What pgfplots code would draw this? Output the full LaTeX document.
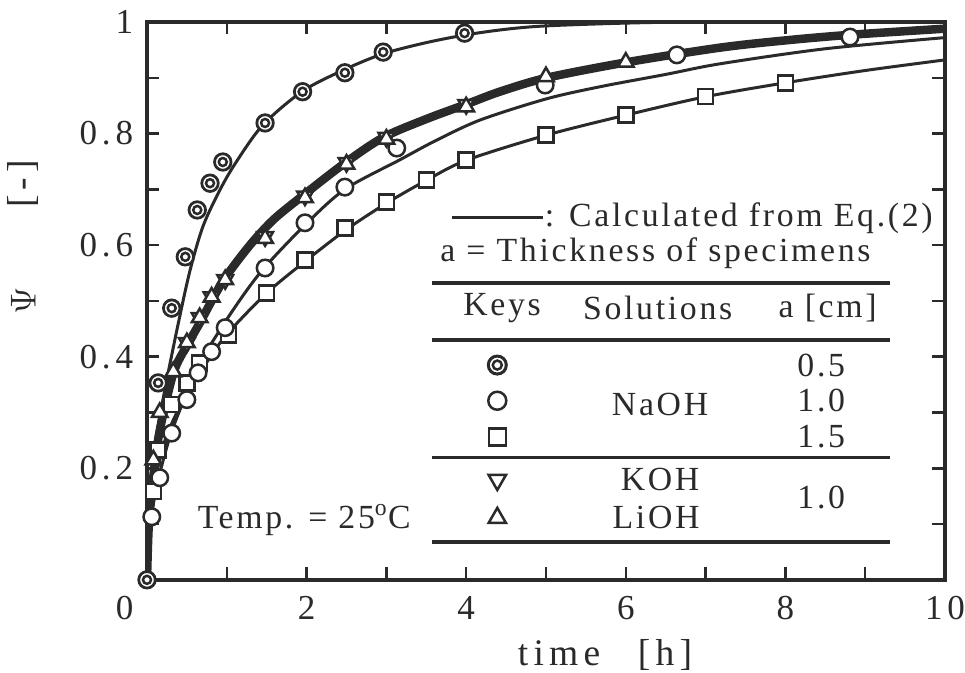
\documentclass[border=0pt]{standalone}
\usepackage{fontspec}
\setmainfont{Liberation Serif}[LetterSpace=14]
\newfontfamily\keyfont{Liberation Serif}[LetterSpace=8]
\usepackage{pgfplots}
\pgfplotsset{compat=1.18}
\definecolor{ink}{HTML}{2A2A2A}

\begin{document}
\begin{tikzpicture}
\begin{axis}[
  scale only axis,
  width=319pt, height=223pt,
  xmin=0, xmax=10, ymin=0, ymax=1,
  axis line style={ink, line width=1.8pt},
  xtick={2,4,6,8,10}, minor xtick={1,3,5,7,9},
  ytick={0.2,0.4,0.6,0.8,1}, minor ytick={0.1,0.3,0.5,0.7,0.9},
  tick align=inside, tick pos=both,
  major tick length=5pt, minor tick length=5pt,
  tick style={ink, line width=1pt},
  /pgf/number format/assume math mode=true,
  /pgf/number format/fixed,
  tick label style={font=\fontsize{14}{16}\selectfont, text=ink},
  yticklabel style={xshift=-2pt},
  xticklabel style={yshift=-3pt},
  clip mode=individual,
]
% calculated curves (Eq. 2)
\addplot[ink, line width=1.2pt, smooth] coordinates {
 (0,0) (0.02,0.10) (0.06,0.19) (0.12,0.26) (0.25,0.36) (0.4,0.465) (0.54,0.555)
 (0.7,0.633) (0.9,0.695) (1.1,0.745) (1.45,0.815) (1.95,0.876) (2.48,0.915)
 (2.96,0.943) (3.5,0.963) (4.0,0.977) (4.5,0.987) (5,0.993) (6,0.998) (7,1.0) (10,1.0)};
\addplot[ink, line width=3.4pt, smooth] coordinates {
 (0,0) (0.02,0.09) (0.06,0.16) (0.15,0.26) (0.33,0.37) (0.5,0.42) (0.66,0.46)
 (0.95,0.535) (1.29,0.600) (1.58,0.645) (1.92,0.685) (2.46,0.745) (2.96,0.793)
 (3.5,0.826) (4.01,0.853) (4.42,0.875) (5.01,0.900) (6.02,0.928) (7.18,0.954)
 (8.0,0.967) (8.81,0.977) (10,0.988)};
\addplot[ink, line width=1.2pt, smooth] coordinates {
 (0,0) (0.02,0.07) (0.06,0.12) (0.15,0.185) (0.3,0.262) (0.5,0.335) (0.7,0.398)
 (1.08,0.484) (1.45,0.556) (1.98,0.636) (2.48,0.700) (3.17,0.753) (3.6,0.786)
 (4.17,0.824) (5.0,0.862) (5.68,0.884) (6.5,0.906) (7.18,0.925) (8.5,0.952) (10,0.972)};
\addplot[ink, line width=1.2pt, smooth] coordinates {
 (0,0) (0.02,0.07) (0.06,0.13) (0.12,0.19) (0.25,0.26) (0.5,0.335) (0.75,0.39)
 (1.0,0.44) (1.5,0.514) (2,0.573) (2.5,0.628) (3,0.675) (3.5,0.716) (4,0.752)
 (5,0.797) (6,0.833) (7,0.866) (8,0.891) (9,0.913) (10,0.932)};

% NaOH 1.5 (squares)
\addplot[only marks, mark=square*, mark size=3pt, mark options={ink, fill=white, line width=1pt}] coordinates {
 (0.08,0.158) (0.14,0.233) (0.31,0.314) (0.5,0.353) (0.66,0.389) (1.02,0.439)
 (1.5,0.514) (1.98,0.573) (2.48,0.631) (3.0,0.677) (3.5,0.717) (4.0,0.753)
 (5.0,0.797) (6.0,0.833) (7.0,0.866) (8.0,0.891)};
% NaOH 1.0 (circles)
\addplot[only marks, mark=*, mark size=3.3pt, mark options={ink, fill=white, line width=1pt}] coordinates {
 (0.06,0.113) (0.16,0.183) (0.31,0.263) (0.5,0.323) (0.64,0.371) (0.81,0.409)
 (0.98,0.452) (1.48,0.559) (1.98,0.64) (2.48,0.704) (3.13,0.774) (4.99,0.887)
 (6.64,0.941) (8.81,0.973)};
% KOH 1.0 (inverted triangles)
\addplot[only marks, mark=triangle*, mark size=3.6pt, mark options={ink, fill=white, line width=1pt, rotate=180}] coordinates {
 (0.5,0.425) (0.66,0.47) (0.81,0.507) (0.98,0.538) (1.48,0.615) (1.98,0.688)
 (2.5,0.748) (3.0,0.793) (4.0,0.852)};
% LiOH 1.0 (triangles)
\addplot[only marks, mark=triangle*, mark size=3.6pt, mark options={ink, fill=white, line width=1pt}] coordinates {
 (0.08,0.215) (0.16,0.30) (0.33,0.373) (0.5,0.425) (0.66,0.47) (0.81,0.507)
 (0.98,0.538) (1.48,0.612) (1.98,0.685) (2.5,0.745) (3.0,0.790) (4.0,0.848)
 (5.0,0.902) (6.0,0.928)};
% NaOH 0.5 (double circles)
\addplot[only marks, mark=*, mark size=3.3pt, mark options={ink, fill=white, line width=1.1pt}] coordinates {
 (0,0) (0.14,0.353) (0.31,0.487) (0.48,0.579) (0.63,0.663) (0.79,0.711) (0.95,0.749)
 (1.48,0.819) (1.95,0.875) (2.48,0.909) (2.96,0.946) (3.98,0.980)};
\addplot[only marks, mark=o, mark size=1.6pt, mark options={ink, line width=1pt}] coordinates {
 (0,0) (0.14,0.353) (0.31,0.487) (0.48,0.579) (0.63,0.663) (0.79,0.711) (0.95,0.749)
 (1.48,0.819) (1.95,0.875) (2.48,0.909) (2.96,0.946) (3.98,0.980)};

% key table
\draw[ink, line width=1.2pt] (axis cs:3.82,0.649) -- (axis cs:4.96,0.649);
\begin{scope}[every node/.style={font=\keyfont\fontsize{13.5}{15}\selectfont, text=ink, inner sep=0pt}]
\node[anchor=west] at (axis cs:4.98,0.649) {: Calculated from Eq.(2)};
\node[anchor=west] at (axis cs:3.67,0.586) {a = Thickness of specimens};
\node at (axis cs:4.45,0.487) {Keys};
\node at (axis cs:6.40,0.487) {Solutions};
\node at (axis cs:8.53,0.487) {a [cm]};
\node at (axis cs:6.43,0.314) {NaOH};
\node at (axis cs:8.45,0.385) {0.5};
\node at (axis cs:8.45,0.321) {1.0};
\node at (axis cs:8.45,0.256) {1.5};
\node at (axis cs:6.43,0.179) {KOH};
\node at (axis cs:6.38,0.111) {LiOH};
\node at (axis cs:8.45,0.147) {1.0};
\node[anchor=west] at (axis cs:0.63,0.1075) {Temp. = 25\textsuperscript{o}C};
\end{scope}
\draw[ink, line width=1.6pt] (axis cs:3.57,0.532) -- (axis cs:9.31,0.532);
\draw[ink, line width=1.6pt] (axis cs:3.57,0.430) -- (axis cs:9.31,0.430);
\draw[ink, line width=1.3pt] (axis cs:3.57,0.219) -- (axis cs:9.31,0.219);
\draw[ink, line width=1.6pt] (axis cs:3.57,0.068) -- (axis cs:9.31,0.068);
\addplot[only marks, mark=*, mark size=3.6pt, mark options={ink, fill=white, line width=1.2pt}] coordinates {(4.39,0.385)};
\addplot[only marks, mark=o, mark size=1.8pt, mark options={ink, line width=1pt}] coordinates {(4.39,0.385)};
\addplot[only marks, mark=*, mark size=3.6pt, mark options={ink, fill=white, line width=1pt}] coordinates {(4.39,0.321)};
\addplot[only marks, mark=square*, mark size=3.4pt, mark options={ink, fill=white, line width=1pt}] coordinates {(4.39,0.256)};
\addplot[only marks, mark=triangle*, mark size=4pt, mark options={ink, fill=white, line width=1pt, rotate=180}] coordinates {(4.39,0.179)};
\addplot[only marks, mark=triangle*, mark size=4pt, mark options={ink, fill=white, line width=1pt}] coordinates {(4.39,0.111)};

% labels
\node[font=\fontsize{14}{16}\selectfont, text=ink, anchor=north, yshift=-3pt] at (rel axis cs:-0.028,0) {0};
\node[font=\fontsize{15}{17}\selectfont, text=ink] at (rel axis cs:0.574,-0.134) {time\quad [h]};
\node[font=\fontsize{15}{17}\selectfont, text=ink, rotate=90] at (rel axis cs:-0.155,0.5) {$\Psi$};
\node[font=\fontsize{15}{17}\selectfont, text=ink, rotate=90] at (rel axis cs:-0.155,0.71) {[-]};
\coordinate (bl) at (rel axis cs:-0.1842,-0.1667);
\coordinate (tr) at (rel axis cs:1.0251,1.0394);
\end{axis}
\pgfresetboundingbox
\path (bl) rectangle (tr);
\end{tikzpicture}
\end{document}
